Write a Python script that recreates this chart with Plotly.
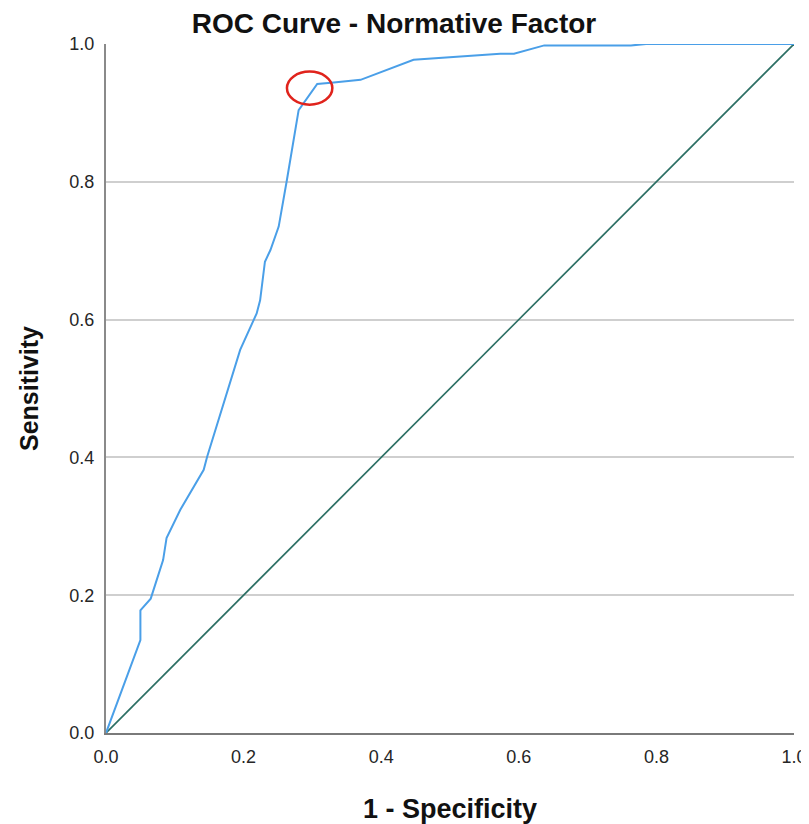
import plotly.graph_objects as go

# ROC curve points (1 - specificity, sensitivity)
fpr = [0.0, 0.018, 0.050, 0.050, 0.065, 0.083, 0.088, 0.108, 0.142, 0.147,
       0.195, 0.219, 0.224, 0.231, 0.239, 0.251, 0.258, 0.263, 0.280, 0.307,
       0.331, 0.370, 0.447, 0.573, 0.593, 0.637, 0.763, 0.785, 1.0]
tpr = [0.0, 0.048, 0.135, 0.178, 0.195, 0.251, 0.283, 0.324, 0.382, 0.401,
       0.556, 0.609, 0.628, 0.684, 0.701, 0.735, 0.773, 0.803, 0.904, 0.942,
       0.944, 0.948, 0.977, 0.986, 0.986, 0.998, 0.998, 1.0, 1.0]

# reference line
ref_x = [0.0, 1.0]
ref_y = [0.0, 1.0]

# highlighted optimal cut-off
cut_x = 0.296
cut_y = 0.936

tick_vals = [0.0, 0.2, 0.4, 0.6, 0.8, 1.0]
tick_text = ["0.0", "0.2", "0.4", "0.6", "0.8", "1.0"]

font = "Liberation Sans, Arial, sans-serif"

# page body adds an 8px offset, so the figure is sized to fit the window
W, H = 801, 816

fig = go.Figure()
fig.add_trace(go.Scatter(x=ref_x, y=ref_y, mode="lines",
                         line=dict(color="#2c6f64", width=1.7),
                         showlegend=False, hoverinfo="skip"))
fig.add_trace(go.Scatter(x=fpr, y=tpr, mode="lines",
                         line=dict(color="#4a9fe8", width=2),
                         showlegend=False))

fig.add_shape(type="circle", xref="x", yref="y",
              x0=cut_x - 0.033, x1=cut_x + 0.033,
              y0=cut_y - 0.024, y1=cut_y + 0.024,
              line=dict(color="#e0231c", width=2.5))

fig.update_layout(
    width=W, height=H,
    margin=dict(l=98, r=15, t=36, b=91, autoexpand=False),
    paper_bgcolor="white", plot_bgcolor="white",
    font=dict(family=font, color="#333333"),
    title=dict(text="<b>ROC Curve - Normative Factor</b>",
               x=386 / W, xanchor="center", xref="container",
               y=1 - 15 / H, yanchor="middle", yref="container",
               font=dict(size=28, color="#111111", family=font)),
    xaxis=dict(range=[0, 1.0], tickvals=tick_vals, ticktext=tick_text,
               showgrid=False, zeroline=False, automargin=False,
               showline=True, linecolor="#7a7a7a", linewidth=2,
               ticks="outside", ticklen=6, tickcolor="rgba(0,0,0,0)",
               tickfont=dict(size=18, color="#262626"),
               title=dict(text="<b>1 - Specificity</b>", standoff=39,
                          font=dict(size=27, color="#111111"))),
    yaxis=dict(range=[0, 1.0], tickvals=tick_vals, ticktext=tick_text,
               showgrid=True, gridcolor="#cfcfcf", gridwidth=2,
               zeroline=False, automargin=False,
               showline=True, linecolor="#8a8a8a", linewidth=2,
               ticks="outside", ticklen=6, tickcolor="rgba(0,0,0,0)",
               tickfont=dict(size=18, color="#262626"),
               title=dict(text="<b>Sensitivity</b>", standoff=24,
                          font=dict(size=25, color="#111111"))),
)

fig.write_html("out.html")
